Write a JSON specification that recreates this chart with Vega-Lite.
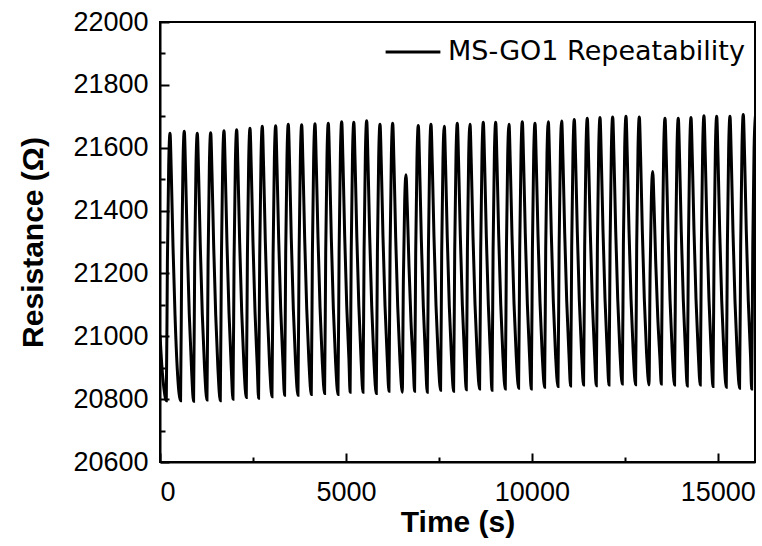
{
"$schema": "https://vega.github.io/schema/vega-lite/v6.json",
"width": 595, "height": 440,
"autosize": {"type": "none"},
"padding": {"left": 160, "top": 22, "right": 7, "bottom": 84},
"background": "white",
"config": {
  "font": "Liberation Sans",
  "view": {"stroke": "black", "strokeWidth": 2},
  "axis": {"grid": false, "domainColor": "black", "domainWidth": 2, "tickColor": "black", "tickWidth": 2, "labelColor": "black", "titleColor": "black", "labelFont": "Liberation Sans", "titleFont": "Liberation Sans", "labelFontSize": 27, "titleFontSize": 30, "titleFontWeight": "bold"}
},
"data": {"values": [
{"t":0,"r":21005},{"t":50,"r":20905},{"t":110,"r":20830},
{"t":169,"r":20795},{"t":199,"r":21237},{"t":234,"r":21544},{"t":269,"r":21646},{"t":304,"r":21518},{"t":349,"r":21289},{"t":404,"r":21067},{"t":464,"r":20897},
{"t":553,"r":20795},{"t":583,"r":21241},{"t":618,"r":21549},{"t":653,"r":21652},{"t":688,"r":21523},{"t":733,"r":21291},{"t":788,"r":21068},{"t":848,"r":20896},
{"t":903,"r":20793},{"t":933,"r":21237},{"t":968,"r":21544},{"t":1003,"r":21646},{"t":1038,"r":21519},{"t":1083,"r":21289},{"t":1138,"r":21069},{"t":1198,"r":20899},
{"t":1263,"r":20797},{"t":1293,"r":21240},{"t":1328,"r":21546},{"t":1363,"r":21648},{"t":1398,"r":21520},{"t":1443,"r":21290},{"t":1498,"r":21068},{"t":1558,"r":20897},
{"t":1621,"r":20795},{"t":1651,"r":21242},{"t":1686,"r":21551},{"t":1721,"r":21654},{"t":1756,"r":21526},{"t":1801,"r":21295},{"t":1856,"r":21073},{"t":1916,"r":20902},
{"t":1962,"r":20800},{"t":1992,"r":21246},{"t":2027,"r":21554},{"t":2062,"r":21657},{"t":2097,"r":21529},{"t":2142,"r":21299},{"t":2197,"r":21078},{"t":2257,"r":20907},
{"t":2320,"r":20805},{"t":2350,"r":21251},{"t":2385,"r":21559},{"t":2420,"r":21662},{"t":2455,"r":21533},{"t":2500,"r":21301},{"t":2555,"r":21078},{"t":2615,"r":20906},
{"t":2651,"r":20803},{"t":2681,"r":21253},{"t":2716,"r":21564},{"t":2751,"r":21668},{"t":2786,"r":21539},{"t":2831,"r":21307},{"t":2886,"r":21083},{"t":2946,"r":20911},
{"t":3011,"r":20808},{"t":3041,"r":21256},{"t":3076,"r":21567},{"t":3111,"r":21670},{"t":3146,"r":21541},{"t":3191,"r":21310},{"t":3246,"r":21087},{"t":3306,"r":20915},
{"t":3350,"r":20812},{"t":3380,"r":21261},{"t":3415,"r":21571},{"t":3450,"r":21675},{"t":3485,"r":21546},{"t":3530,"r":21313},{"t":3585,"r":21088},{"t":3645,"r":20916},
{"t":3710,"r":20812},{"t":3740,"r":21260},{"t":3775,"r":21570},{"t":3810,"r":21673},{"t":3845,"r":21544},{"t":3890,"r":21313},{"t":3945,"r":21090},{"t":4005,"r":20918},
{"t":4068,"r":20815},{"t":4098,"r":21263},{"t":4133,"r":21573},{"t":4168,"r":21676},{"t":4203,"r":21547},{"t":4248,"r":21316},{"t":4303,"r":21093},{"t":4363,"r":20921},
{"t":4426,"r":20818},{"t":4456,"r":21265},{"t":4491,"r":21575},{"t":4526,"r":21678},{"t":4561,"r":21549},{"t":4606,"r":21316},{"t":4661,"r":21091},{"t":4721,"r":20919},
{"t":4786,"r":20815},{"t":4816,"r":21266},{"t":4851,"r":21579},{"t":4886,"r":21683},{"t":4921,"r":21554},{"t":4966,"r":21321},{"t":5021,"r":21098},{"t":5081,"r":20925},
{"t":5112,"r":20822},{"t":5142,"r":21269},{"t":5177,"r":21578},{"t":5212,"r":21681},{"t":5247,"r":21552},{"t":5292,"r":21320},{"t":5347,"r":21097},{"t":5407,"r":20925},
{"t":5458,"r":20822},{"t":5488,"r":21271},{"t":5523,"r":21582},{"t":5558,"r":21686},{"t":5593,"r":21556},{"t":5638,"r":21321},{"t":5693,"r":21096},{"t":5753,"r":20922},
{"t":5816,"r":20818},{"t":5846,"r":21264},{"t":5881,"r":21572},{"t":5916,"r":21675},{"t":5951,"r":21548},{"t":5996,"r":21318},{"t":6051,"r":21097},{"t":6111,"r":20927},
{"t":6157,"r":20825},{"t":6187,"r":21269},{"t":6222,"r":21576},{"t":6257,"r":21678},{"t":6292,"r":21550},{"t":6337,"r":21318},{"t":6392,"r":21096},{"t":6452,"r":20925},
{"t":6515,"r":20822},{"t":6545,"r":21182},{"t":6580,"r":21431},{"t":6615,"r":21514},{"t":6650,"r":21411},{"t":6695,"r":21225},{"t":6750,"r":21045},{"t":6810,"r":20908},
{"t":6846,"r":20825},{"t":6876,"r":21265},{"t":6911,"r":21569},{"t":6946,"r":21671},{"t":6981,"r":21544},{"t":7026,"r":21314},{"t":7081,"r":21094},{"t":7141,"r":20924},
{"t":7187,"r":20822},{"t":7217,"r":21266},{"t":7252,"r":21573},{"t":7287,"r":21675},{"t":7322,"r":21548},{"t":7367,"r":21319},{"t":7422,"r":21099},{"t":7482,"r":20930},
{"t":7545,"r":20828},{"t":7575,"r":21265},{"t":7610,"r":21567},{"t":7645,"r":21668},{"t":7680,"r":21542},{"t":7725,"r":21314},{"t":7780,"r":21095},{"t":7840,"r":20926},
{"t":7895,"r":20825},{"t":7925,"r":21269},{"t":7960,"r":21576},{"t":7995,"r":21678},{"t":8030,"r":21551},{"t":8075,"r":21322},{"t":8130,"r":21101},{"t":8190,"r":20932},
{"t":8236,"r":20830},{"t":8266,"r":21269},{"t":8301,"r":21574},{"t":8336,"r":21675},{"t":8371,"r":21549},{"t":8416,"r":21321},{"t":8471,"r":21102},{"t":8531,"r":20933},
{"t":8594,"r":20832},{"t":8624,"r":21273},{"t":8659,"r":21579},{"t":8694,"r":21681},{"t":8729,"r":21553},{"t":8774,"r":21323},{"t":8829,"r":21101},{"t":8889,"r":20930},
{"t":8927,"r":20828},{"t":8957,"r":21272},{"t":8992,"r":21579},{"t":9027,"r":21681},{"t":9062,"r":21554},{"t":9107,"r":21324},{"t":9162,"r":21104},{"t":9222,"r":20934},
{"t":9285,"r":20832},{"t":9315,"r":21270},{"t":9350,"r":21574},{"t":9385,"r":21675},{"t":9420,"r":21549},{"t":9465,"r":21322},{"t":9520,"r":21104},{"t":9580,"r":20936},
{"t":9643,"r":20835},{"t":9673,"r":21276},{"t":9708,"r":21581},{"t":9743,"r":21683},{"t":9778,"r":21555},{"t":9823,"r":21326},{"t":9878,"r":21104},{"t":9938,"r":20934},
{"t":9984,"r":20832},{"t":10014,"r":21272},{"t":10049,"r":21576},{"t":10084,"r":21678},{"t":10119,"r":21552},{"t":10164,"r":21325},{"t":10219,"r":21107},{"t":10279,"r":20939},
{"t":10342,"r":20838},{"t":10372,"r":21277},{"t":10407,"r":21582},{"t":10442,"r":21683},{"t":10477,"r":21557},{"t":10522,"r":21329},{"t":10577,"r":21110},{"t":10637,"r":20941},
{"t":10702,"r":20840},{"t":10732,"r":21279},{"t":10767,"r":21584},{"t":10802,"r":21685},{"t":10837,"r":21559},{"t":10882,"r":21331},{"t":10937,"r":21112},{"t":10997,"r":20943},
{"t":11041,"r":20842},{"t":11071,"r":21283},{"t":11106,"r":21588},{"t":11141,"r":21690},{"t":11176,"r":21563},{"t":11221,"r":21335},{"t":11276,"r":21115},{"t":11336,"r":20946},
{"t":11390,"r":20845},{"t":11420,"r":21286},{"t":11455,"r":21592},{"t":11490,"r":21694},{"t":11525,"r":21566},{"t":11570,"r":21337},{"t":11625,"r":21115},{"t":11685,"r":20945},
{"t":11732,"r":20843},{"t":11762,"r":21287},{"t":11797,"r":21594},{"t":11832,"r":21696},{"t":11867,"r":21568},{"t":11912,"r":21339},{"t":11967,"r":21117},{"t":12027,"r":20947},
{"t":12073,"r":20845},{"t":12103,"r":21289},{"t":12138,"r":21596},{"t":12173,"r":21698},{"t":12208,"r":21571},{"t":12253,"r":21341},{"t":12308,"r":21120},{"t":12368,"r":20950},
{"t":12431,"r":20848},{"t":12461,"r":21291},{"t":12496,"r":21598},{"t":12531,"r":21700},{"t":12566,"r":21572},{"t":12611,"r":21341},{"t":12666,"r":21119},{"t":12726,"r":20948},
{"t":12789,"r":20846},{"t":12819,"r":21289},{"t":12854,"r":21596},{"t":12889,"r":21698},{"t":12924,"r":21570},{"t":12969,"r":21340},{"t":13024,"r":21118},{"t":13084,"r":20947},
{"t":13149,"r":20845},{"t":13179,"r":21198},{"t":13214,"r":21443},{"t":13249,"r":21524},{"t":13284,"r":21423},{"t":13329,"r":21240},{"t":13384,"r":21064},{"t":13444,"r":20929},
{"t":13480,"r":20848},{"t":13510,"r":21288},{"t":13545,"r":21592},{"t":13580,"r":21694},{"t":13615,"r":21567},{"t":13660,"r":21337},{"t":13715,"r":21117},{"t":13775,"r":20947},
{"t":13837,"r":20845},{"t":13867,"r":21286},{"t":13902,"r":21592},{"t":13937,"r":21694},{"t":13972,"r":21566},{"t":14017,"r":21336},{"t":14072,"r":21115},{"t":14132,"r":20944},
{"t":14179,"r":20842},{"t":14209,"r":21286},{"t":14244,"r":21594},{"t":14279,"r":21696},{"t":14314,"r":21568},{"t":14359,"r":21339},{"t":14414,"r":21117},{"t":14474,"r":20947},
{"t":14528,"r":20845},{"t":14558,"r":21291},{"t":14593,"r":21599},{"t":14628,"r":21702},{"t":14663,"r":21573},{"t":14708,"r":21340},{"t":14763,"r":21116},{"t":14823,"r":20943},
{"t":14870,"r":20840},{"t":14900,"r":21287},{"t":14935,"r":21597},{"t":14970,"r":21700},{"t":15005,"r":21571},{"t":15050,"r":21338},{"t":15105,"r":21114},{"t":15165,"r":20941},
{"t":15227,"r":20838},{"t":15257,"r":21286},{"t":15292,"r":21597},{"t":15327,"r":21700},{"t":15362,"r":21570},{"t":15407,"r":21337},{"t":15462,"r":21112},{"t":15522,"r":20939},
{"t":15585,"r":20835},{"t":15615,"r":21288},{"t":15650,"r":21601},{"t":15685,"r":21706},{"t":15720,"r":21575},{"t":15765,"r":21339},{"t":15820,"r":21112},{"t":15880,"r":20937},
{"t":15910,"r":20832},{"t":15940,"r":21283},{"t":15975,"r":21596},{"t":16010,"r":21700}
]},
"mark": {"type": "line", "interpolate": "monotone", "strokeWidth": 3, "clip": true},
"encoding": {
  "x": {"field": "t", "type": "quantitative", "title": "Time (s)",
    "scale": {"domain": [0, 16000], "nice": false, "zero": false},
    "axis": {"values": [0, 2500, 5000, 7500, 10000, 12500, 15000],
      "labelExpr": "datum.value % 5000 === 0 ? datum.label : ''",
      "format": "d", "labelFlush": true,
      "tickSize": {"condition": {"test": "datum.value % 5000 === 0", "value": -9}, "value": -5},
      "labelPadding": 26, "titlePadding": 2}},
  "y": {"field": "r", "type": "quantitative", "title": "Resistance (Ω)",
    "scale": {"domain": [20600, 22000], "nice": false, "zero": false},
    "axis": {"values": [20600, 20700, 20800, 20900, 21000, 21100, 21200, 21300, 21400, 21500, 21600, 21700, 21800, 21900, 22000],
      "labelExpr": "datum.value % 200 === 0 ? datum.label : ''",
      "format": "d",
      "tickSize": {"condition": {"test": "datum.value % 200 === 0", "value": -9}, "value": -5},
      "labelPadding": 21, "titlePadding": 24}},
  "color": {"datum": "MS-GO1 Repeatability", "type": "nominal",
    "scale": {"range": ["black"]},
    "legend": {"orient": "none", "legendX": 224, "legendY": 1, "title": null,
      "symbolType": "stroke", "symbolSize": 3000, "symbolStrokeWidth": 3,
      "labelFont": "DejaVu Sans", "labelFontSize": 27, "labelColor": "black", "labelLimit": 0,
      "labelOffset": 6, "padding": 0}}
}
}
